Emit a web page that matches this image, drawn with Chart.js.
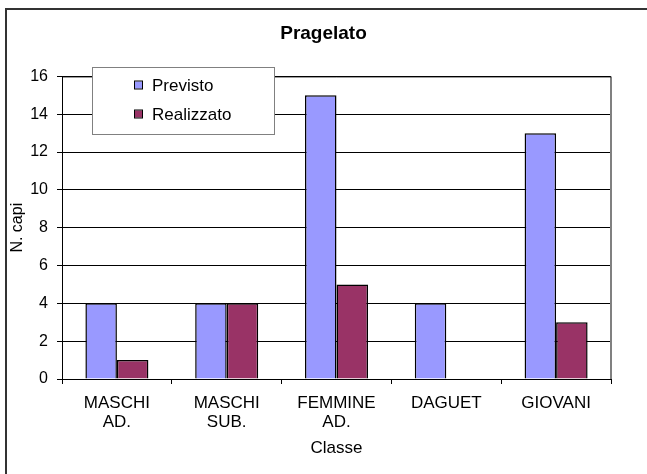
<!DOCTYPE html>
<html>
<head>
<meta charset="utf-8">
<script src="https://cdn.jsdelivr.net/npm/chart.js@4.4.0/dist/chart.umd.min.js"></script>
<style>
  html, body { margin: 0; padding: 0; background: #fff; }
  #wrap { width: 647px; height: 474px; position: relative; }
</style>
</head>
<body>
<div id="wrap"><canvas id="chart" width="647" height="474"></canvas></div>
<script>
// categories and series
const categories = [['MASCHI', 'AD.'], ['MASCHI', 'SUB.'], ['FEMMINE', 'AD.'], 'DAGUET', 'GIOVANI'];
const previsto = [4, 4, 15, 4, 13];
const realizzato = [1, 4, 5, 0, 3];
const seriesNames = ['Previsto', 'Realizzato'];
const yTicks = [0, 2, 4, 6, 8, 10, 12, 14, 16];

const FONT = "'Liberation Sans', Arial, sans-serif";

// white background + outer frame + plot frame
const framePlugin = {
    id: 'frame',
    beforeDraw(chart) {
        const c = chart.ctx;
        c.save();
        c.fillStyle = '#fff';
        c.fillRect(0, 0, chart.width, chart.height);
        c.strokeStyle = '#333';
        c.lineWidth = 2;
        c.strokeRect(6, 9, 700, 500);
        c.restore();
    },
    afterDatasetsDraw(chart) {
        const a = chart.chartArea;
        const c = chart.ctx;
        c.save();
        c.strokeStyle = '#808080';
        c.lineWidth = 2;
        c.beginPath();
        c.moveTo(a.right, a.top);
        c.lineTo(a.right, a.bottom);
        c.stroke();
        c.strokeStyle = '#000';
        c.lineWidth = 1;
        c.beginPath();
        c.moveTo(a.left, a.top + 0.5);
        c.lineTo(a.right, a.top + 0.5);
        c.stroke();
        c.restore();
    }
};

// legend box drawn inside the plot area, like the Excel original
const boxLegend = {
    id: 'boxLegend',
    afterDraw(chart) {
        const c = chart.ctx;
        const x = 92.5, y = 67.5, w = 182, h = 67;
        c.save();
        c.fillStyle = '#fff';
        c.fillRect(x, y, w, h);
        c.strokeStyle = '#808080';
        c.lineWidth = 1;
        c.strokeRect(x, y, w, h);
        c.font = '17px ' + FONT;
        c.textBaseline = 'middle';
        chart.data.datasets.forEach((ds, i) => {
            const cy = 85 + i * 29;
            c.fillStyle = ds.backgroundColor;
            c.fillRect(135, cy - 3.5, 7, 7);
            c.strokeStyle = '#000';
            c.strokeRect(134.5, cy - 4, 8, 8);
            c.fillStyle = '#000';
            c.fillText(ds.label, 152, cy + 1);
        });
        c.restore();
    }
};

new Chart(document.getElementById('chart'), {
    type: 'bar',
    data: {
        labels: categories,
        datasets: [
            { label: seriesNames[0], data: previsto, backgroundColor: '#9999FF' },
            { label: seriesNames[1], data: realizzato, backgroundColor: '#993366' }
        ]
    },
    options: {
        responsive: false,
        animation: false,
        devicePixelRatio: 1,
        layout: { padding: 0 },
        datasets: {
            bar: {
                borderColor: '#000',
                borderWidth: 1.5,
                borderSkipped: 'start',
                categoryPercentage: 0.574,
                barPercentage: 1
            }
        },
        scales: {
            x: {
                grid: { offset: true, drawOnChartArea: false, color: '#000', tickLength: 5 },
                border: { color: '#000' },
                ticks: {
                    color: '#000',
                    padding: 10,
                    maxRotation: 0,
                    autoSkip: false,
                    font: { family: FONT, size: 17, lineHeight: 1.1 }
                },
                title: {
                    display: true,
                    text: 'Classe',
                    color: '#000',
                    padding: { top: 0, bottom: 15 },
                    font: { family: FONT, size: 17 }
                },
                afterFit(s) { s.height = 95; }
            },
            y: {
                min: 0,
                max: 16,
                afterBuildTicks(s) { s.ticks = yTicks.map(v => ({ value: v })); },
                grid: { color: '#000', tickLength: 5 },
                border: { color: '#000' },
                ticks: {
                    color: '#000',
                    padding: 9,
                    font: { family: FONT, size: 16 }
                },
                title: {
                    display: true,
                    text: 'N. capi',
                    color: '#000',
                    padding: { top: 8, bottom: 0 },
                    font: { family: FONT, size: 16 }
                },
                afterFit(s) { s.width = 62; }
            },
            // empty right-hand axis, only reserves the margin on the right
            yRight: {
                position: 'right',
                display: true,
                grid: { display: false, drawTicks: false },
                border: { display: false },
                ticks: { display: false },
                afterFit(s) { s.width = 36; }
            }
        },
        plugins: {
            legend: { display: false },
            tooltip: { enabled: false },
            title: {
                display: true,
                text: 'Pragelato',
                color: '#000',
                padding: { top: 22.6, bottom: 31 },
                font: { family: FONT, size: 19, weight: 'bold' }
            }
        }
    },
    plugins: [framePlugin, boxLegend]
});
</script>
</body>
</html>
